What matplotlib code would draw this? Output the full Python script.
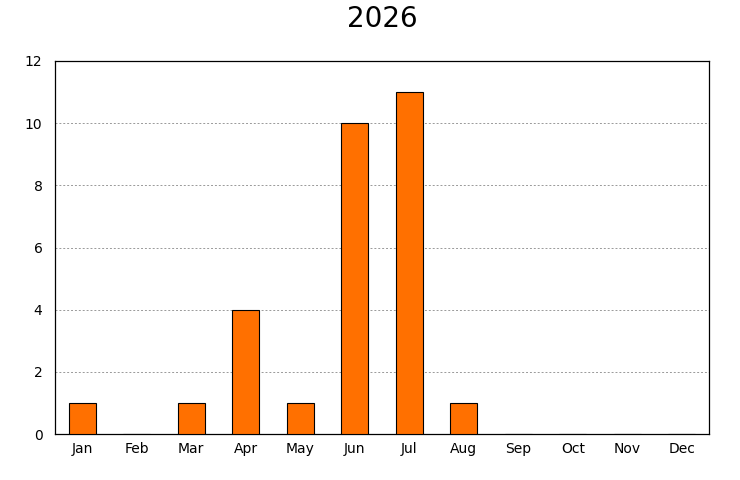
import numpy as np
import matplotlib
matplotlib.use('Agg')
import matplotlib.pyplot as plt

months = ['Jan', 'Feb', 'Mar', 'Apr', 'May', 'Jun',
          'Jul', 'Aug', 'Sep', 'Oct', 'Nov', 'Dec']
counts = [1, 0, 1, 4, 1, 10, 11, 1, 0, 0, 0, 0]
yticks = [0, 2, 4, 6, 8, 10, 12]

fig, ax = plt.subplots(1, 1, figsize=(7.4, 4.8), dpi=100)
fig.subplots_adjust(left=55 / 740, right=709 / 740, bottom=1 - 434 / 480, top=1 - 61 / 480)

x = np.arange(len(months))
ax.bar(x, counts, width=0.5, color='#ff7000', edgecolor='black', linewidth=0.8, zorder=3)

ax.set_xlim(-0.5, len(months) - 0.5)
ax.set_ylim(0, 12)
ax.set_xticks(x)
ax.set_xticklabels(months, fontsize=10)
ax.set_yticks(yticks)
ax.set_yticklabels([str(v) for v in yticks], fontsize=10)
ax.tick_params(axis='x', length=0, pad=6)
ax.tick_params(axis='y', length=0, pad=9)

ax.grid(True, 'major', 'y', ls=(0, (2, 2)), lw=0.7, c='#999999', zorder=0)
for s in ax.spines.values():
    s.set_linewidth(0.9)

fig.suptitle('2026', fontsize=20, x=382 / 740, y=0.99)

fig.savefig('out.png', dpi=100)
